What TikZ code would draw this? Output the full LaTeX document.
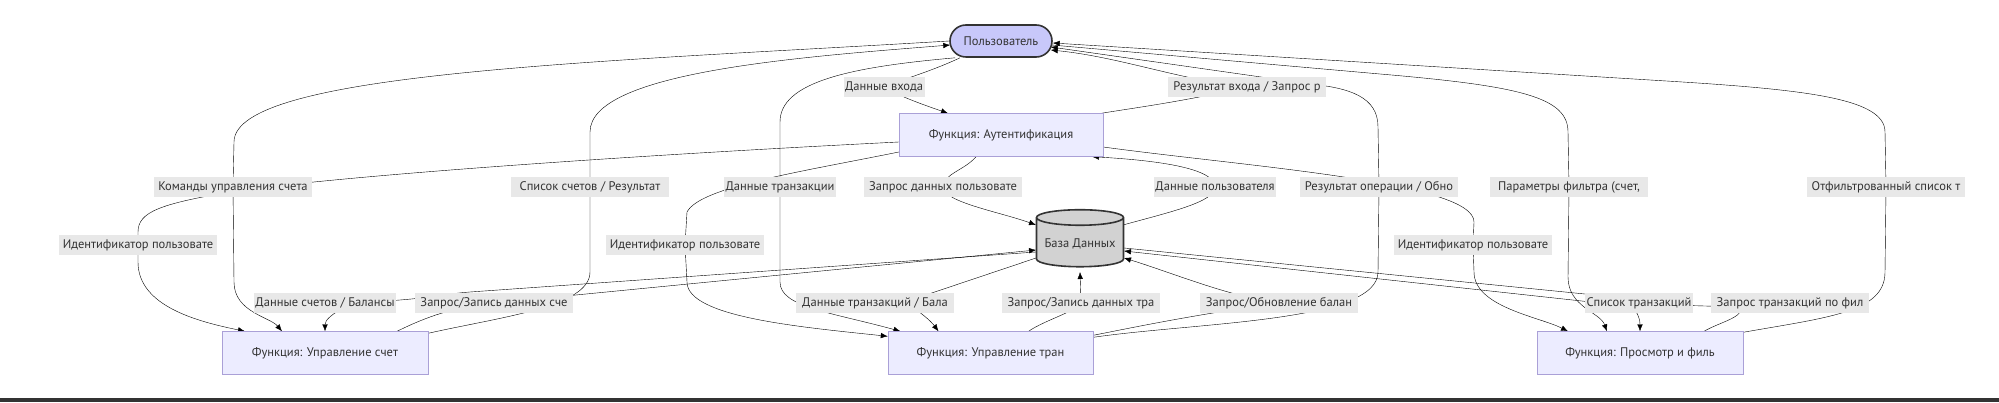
\documentclass[tikz,border=0pt]{standalone}
\usepackage{fontspec}
\setmainfont{PT Sans}
\usetikzlibrary{shapes.geometric}
\usetikzlibrary{arrows.meta}
\usetikzlibrary{backgrounds}

\definecolor{boxfill}{RGB}{236,236,255}
\definecolor{boxline}{RGB}{170,160,215}
\definecolor{userfill}{RGB}{200,200,250}
\definecolor{dbfill}{RGB}{210,210,210}
\definecolor{ink}{RGB}{51,51,51}
\definecolor{lblfill}{RGB}{232,232,232}

\begin{document}
\begin{tikzpicture}
		[x=1pt, y=1pt, font=\fontsize{12.5}{14}\selectfont, >={Latex[length=7pt,width=5.5pt]},
		main/.style = {draw=boxline, fill=boxfill, text=ink, minimum width=206pt, minimum height=43pt},
		user/.style = {draw=ink, line width=1.6pt, fill=userfill, text=ink, rounded corners=16pt, minimum width=102pt, minimum height=32pt},
		base/.style = {draw=ink, line width=1.6pt, fill=dbfill, text=ink, cylinder, shape border rotate=90, shape aspect=0.2, minimum width=87pt, minimum height=57pt},
		lbl/.style = {fill=lblfill, text=ink, inner xsep=1.5pt, inner ysep=3.5pt, text height=9.5pt, text depth=3pt},
		cut/.style = {lbl, minimum width=158pt},
		edge/.style = {ink, line width=0.9pt}]
        \useasboundingbox (0,0) rectangle (1999,402);
        \fill[ink] (0,0) rectangle (1999,4);

        \node[user] (1) at (1001,361) {Пользователь};
        \node[main, minimum width=204pt] (2) at (1001,267) {Функция: Аутентификация};
        \node[base] (3) at (1080,158) {База Данных};
        \node[main] (4) at (325,49) {Функция: Управление счет};
        \node[main, minimum width=205pt] (5) at (990.5,49) {Функция: Управление тран};
        \node[main] (6) at (1640,49) {Функция: Просмотр и филь};

        \node[lbl] (l1) at (884,315) {Данные входа};
        \node[cut] (l2) at (1247,315) {Результат входа / Запрос р};
        \node[cut] (l3) at (233,215) {Команды управления счета};
        \node[cut] (l4) at (590,215) {Список счетов / Результат};
        \node[lbl] (l5) at (780,215) {Данные транзакции};
        \node[cut] (l6) at (1379,215) {Результат операции / Обно};
        \node[cut] (l7) at (1569,215) {Параметры фильтра (счет,};
        \node[cut] (l8) at (1886,215) {Отфильтрованный список т};
        \node[cut] (l9) at (943,215) {Запрос данных пользовате};
        \node[lbl] (l10) at (1215,215) {Данные пользователя};
        \node[cut] (l11) at (138,157) {Идентификатор пользовате};
        \node[cut] (l12) at (685,157) {Идентификатор пользовате};
        \node[cut] (l13) at (1473,157) {Идентификатор пользовате};
        \node[cut] (l14) at (494,99) {Запрос/Запись данных сче};
        \node[lbl] (l15) at (325,99) {Данные счетов / Балансы};
        \node[cut] (l16) at (1081,99) {Запрос/Запись данных тра};
        \node[cut] (l17) at (875,99) {Данные транзакций / Бала};
        \node[cut] (l18) at (1279,99) {Запрос/Обновление балан};
        \node[cut] (l19) at (1790,99) {Запрос транзакций по фил};
        \node[lbl] (l20) at (1639,99) {Список транзакций};

        \begin{scope}[on background layer, edge]
        \draw[->] ([xshift=-41pt]1.south) .. controls (930,330) and (900,322) .. (l1.center) .. controls (900,305) and (930,295) .. ([xshift=-53pt]2.north);
        \draw[->] ([xshift=-2pt]2.north east) .. controls (1140,295) and (1180,300) .. (l2.center) .. controls (1180,322) and (1120,345) .. ([xshift=-2pt,yshift=-9pt]1.east);
        \draw[->] (1.west) .. controls (600,340) and (234,330) .. (234,260) -- (l3.center) -- (234,120) .. controls (234,90) and (270,85) .. ([xshift=-43pt]4.north);
        \draw[->] ([yshift=-2pt]4.north east) .. controls (500,85) and (590,95) .. (590,130) -- (l4.center) -- (590,270) .. controls (590,330) and (800,345) .. ([xshift=1pt,yshift=-4pt]1.west);
        \draw[->] ([xshift=6pt]1.south west) .. controls (850,335) and (780,320) .. (780,280) -- (l5.center) -- (780,120) .. controls (780,95) and (830,90) .. ([xshift=-90pt]5.north);
        \draw[->] ([yshift=-6pt]5.north east) .. controls (1200,80) and (1378,80) .. (1378,130) -- (l6.center) -- (1378,275) .. controls (1378,305) and (1350,314) .. (1310,318) -- ([xshift=-2pt,yshift=-6pt]1.east);
        \draw[->] ([xshift=-1pt,yshift=-4pt]1.east) -- (1380,328) .. controls (1520,316) and (1568,305) .. (1568,270) -- (l7.center) -- (1568,125) .. controls (1568,95) and (1600,90) .. ([xshift=-33pt]6.north);
        \draw[->] ([yshift=-1pt]6.north east) .. controls (1830,85) and (1885,90) .. (1885,130) -- (l8.center) -- (1885,270) .. controls (1885,305) and (1800,313) .. (1650,322) -- ([yshift=-2pt]1.east);
        \draw[->] ([xshift=-25pt]2.south) .. controls (965,232) and (943,228) .. (l9.center) .. controls (943,200) and (1000,190) .. ([xshift=-44pt,yshift=19pt]3.center);
        \draw[->] ([xshift=43pt,yshift=19pt]3.center) .. controls (1170,190) and (1215,200) .. (l10.center) .. controls (1215,235) and (1150,242) .. ([xshift=91pt]2.south);
        \draw[->] ([yshift=-7pt]2.west) .. controls (600,245) and (330,225) .. (230,210) .. controls (160,198) and (138,190) .. (138,170) -- (l11.center) -- (138,140) .. controls (138,95) and (200,80) .. ([xshift=-80pt]4.north);
        \draw[->] ([yshift=-17pt]2.west) .. controls (800,230) and (700,215) .. (687,190) -- (l12.center) -- (687,120) .. controls (687,85) and (800,75) .. ([yshift=-5pt]5.north west);
        \draw[->] ([yshift=-12pt]2.east) .. controls (1250,235) and (1474,220) .. (1474,180) -- (l13.center) -- (1474,130) .. controls (1474,95) and (1540,85) .. ([xshift=-72pt]6.north);
        \draw[->] ([xshift=72pt]4.north) .. controls (420,82) and (450,95) .. (l14.center) -- ([xshift=-44pt,yshift=-6pt]3.center);
        \draw[->] ([xshift=-44pt,yshift=-8pt]3.center) -- (470,110) .. controls (440,108) and (420,100) .. (l15.center) -- (345,95) .. controls (332,88) and (325,82) .. (4.north);
        \draw[->] ([xshift=38pt]5.north) .. controls (1045,82) and (1075,90) .. (l16.center) -- ([yshift=-28pt]3.center);
        \draw[->] ([xshift=-44pt,yshift=-14pt]3.center) -- (905,100) .. controls (920,90) and (930,82) .. ([xshift=-52pt]5.north);
        \draw[->] ([yshift=-4pt]5.north east) .. controls (1150,78) and (1200,88) .. (l18.center) .. controls (1230,105) and (1170,130) .. ([xshift=44pt,yshift=-14pt]3.center);
        \draw[->] ([xshift=64pt]6.north) .. controls (1720,80) and (1745,85) .. (1740,95) -- (1600,99) -- ([xshift=44pt,yshift=-7pt]3.center);
        \draw[->] ([xshift=44pt,yshift=-4pt]3.center) -- (1625,104) .. controls (1635,95) and (1640,85) .. (6.north);
        \end{scope}
	\end{tikzpicture}
\end{document}
